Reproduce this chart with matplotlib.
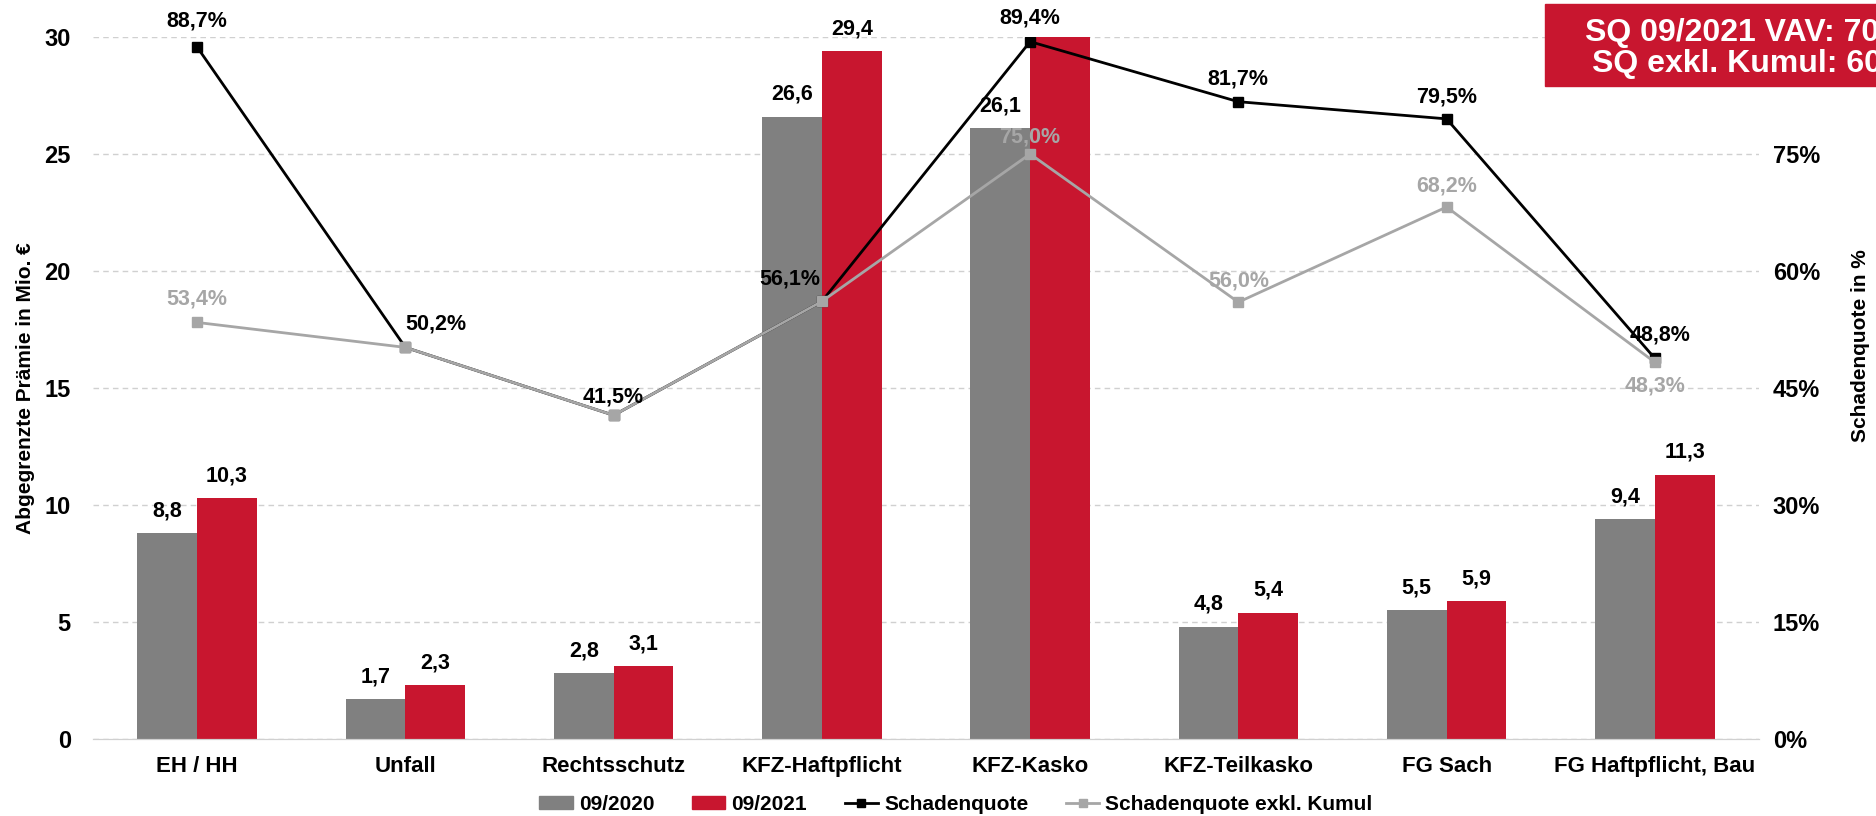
import numpy as np
import matplotlib.pyplot as plt
from matplotlib.patches import Rectangle
from matplotlib.lines import Line2D
from matplotlib.patches import Patch

# data
categories = ["EH / HH", "Unfall", "Rechtsschutz", "KFZ-Haftpflicht", "KFZ-Kasko",
              "KFZ-Teilkasko", "FG Sach", "FG Haftpflicht, Bau"]
praemie_2020 = [8.8, 1.7, 2.8, 26.6, 26.1, 4.8, 5.5, 9.4]
praemie_2021 = [10.3, 2.3, 3.1, 29.4, 30.3, 5.4, 5.9, 11.3]
schadenquote = [88.7, 50.2, 41.5, 56.1, 89.4, 81.7, 79.5, 48.8]
sq_exkl_kumul = [53.4, 50.2, 41.5, 56.1, 75.0, 56.0, 68.2, 48.3]
# which grey labels are shown (the others sit hidden behind the black ones)
show_exkl_label = [True, False, False, False, True, True, True, True]
box_lines = ["SQ 09/2021 VAV: 70,6%", "SQ exkl. Kumul: 60,4%"]

GRAY = "#808080"
RED = "#C8162F"
LGRAY = "#A6A6A6"

plt.rcParams['font.family'] = ['Liberation Sans', 'DejaVu Sans']
plt.rcParams['font.weight'] = 'bold'

fig = plt.figure(figsize=(18.76, 8.16), dpi=100)
ax = fig.add_axes([0.0496, 0.0944, 0.888, 0.8603])
ax2 = ax.twinx()

x = np.arange(len(categories))
w = 0.287
b1 = ax.bar(x - w / 2, praemie_2020, w, color=GRAY, zorder=2)
b2 = ax.bar(x + w / 2, praemie_2021, w, color=RED, zorder=2)

ax.set_ylim(0, 30)
ax.set_xlim(-0.5, len(categories) - 0.5)
ax.set_yticks(range(0, 31, 5))
ax.grid(axis='y', color='#D0D0D0', linestyle=(0, (4, 3)), linewidth=1, zorder=0)
ax.set_axisbelow(True)

# bar value labels (the clipped Kasko bar has none in the original)
for bars, vals in [(b1, praemie_2020), (b2, praemie_2021)]:
    for rect, v in zip(bars, vals):
        if v > 30:
            continue
        ax.annotate(f"{v:.1f}".replace('.', ','), (rect.get_x() + rect.get_width() / 2, v),
                    xytext=(0, 16), textcoords='offset points', ha='center', va='center',
                    fontsize=15.5, fontweight='bold', color='black')

# lines on secondary axis
ax2.set_ylim(0, 90)
ax2.set_yticks(range(0, 76, 15))
ax2.set_yticklabels([f"{t}%" for t in range(0, 76, 15)])
ax2.plot(x, schadenquote, color='black', lw=2, marker='s', ms=7, zorder=3)
ax2.plot(x, sq_exkl_kumul, color=LGRAY, lw=2, marker='s', ms=7, zorder=4)

black_off = [(0, 19), (22, 17), (0, 13), (-23, 16), (0, 17), (0, 16), (0, 16), (4, 17)]
for xi, v, off in zip(x, schadenquote, black_off):
    ax2.annotate(f"{v:.1f}%".replace('.', ','), (xi, v), xytext=off, textcoords='offset points',
                 ha='center', va='center', fontsize=15.5, fontweight='bold', color='black', zorder=6)

gray_off = [(0, 17), (0, 0), (0, 0), (0, 0), (0, 12), (0, 15), (0, 15), (0, -17)]
for xi, v, off, show in zip(x, sq_exkl_kumul, gray_off, show_exkl_label):
    if show:
        ax2.annotate(f"{v:.1f}%".replace('.', ','), (xi, v), xytext=off, textcoords='offset points',
                     ha='center', va='center', fontsize=15.5, fontweight='bold', color=LGRAY, zorder=5)

for a in (ax, ax2):
    for s in ('top', 'left', 'right'):
        a.spines[s].set_visible(False)
    a.spines['bottom'].set_color('#D0D0D0')
    a.tick_params(length=0)
ax.set_xticks(x)
ax.set_xticklabels(categories, fontsize=16, fontweight='bold')
ax.tick_params(axis='x', pad=12)
ax.tick_params(axis='y', labelsize=17, pad=16)
ax2.tick_params(axis='y', labelsize=17, pad=10)

ax.set_ylabel("Abgegrenzte Prämie in Mio. €", fontsize=15, fontweight='bold')
ax.yaxis.set_label_coords(-0.035, 0.5)
ax2.set_ylabel("Schadenquote in %", fontsize=15, fontweight='bold')
ax2.yaxis.set_label_coords(1.055, 0.56)

handles = [Patch(color=GRAY), Patch(color=RED),
           Line2D([], [], color='black', lw=2, marker='s', ms=6),
           Line2D([], [], color=LGRAY, lw=2, marker='s', ms=6)]
labels = ["09/2020", "09/2021", "Schadenquote", "Schadenquote exkl. Kumul"]
fig.legend(handles, labels, loc='center', bbox_to_anchor=(956 / 1876, 1 - 804 / 816), ncol=4,
           frameon=False, fontsize=15, handlelength=1.6, handleheight=0.6,
           handletextpad=0.3, columnspacing=1.8)

# red info box at top right (cut off by the figure edge, as in the original)
fig.patches.append(Rectangle((1545 / 1876, 1 - 86 / 816), 0.3, 82 / 816,
                             transform=fig.transFigure, color=RED, zorder=10))
fig.text(1585 / 1876, 1 - 33 / 816, box_lines[0], ha='left', va='center', color='white',
         fontsize=23, fontweight='bold', zorder=11)
fig.text(1592 / 1876, 1 - 64 / 816, box_lines[1], ha='left', va='center', color='white',
         fontsize=23, fontweight='bold', zorder=11)

fig.savefig("out.png", dpi=100)
